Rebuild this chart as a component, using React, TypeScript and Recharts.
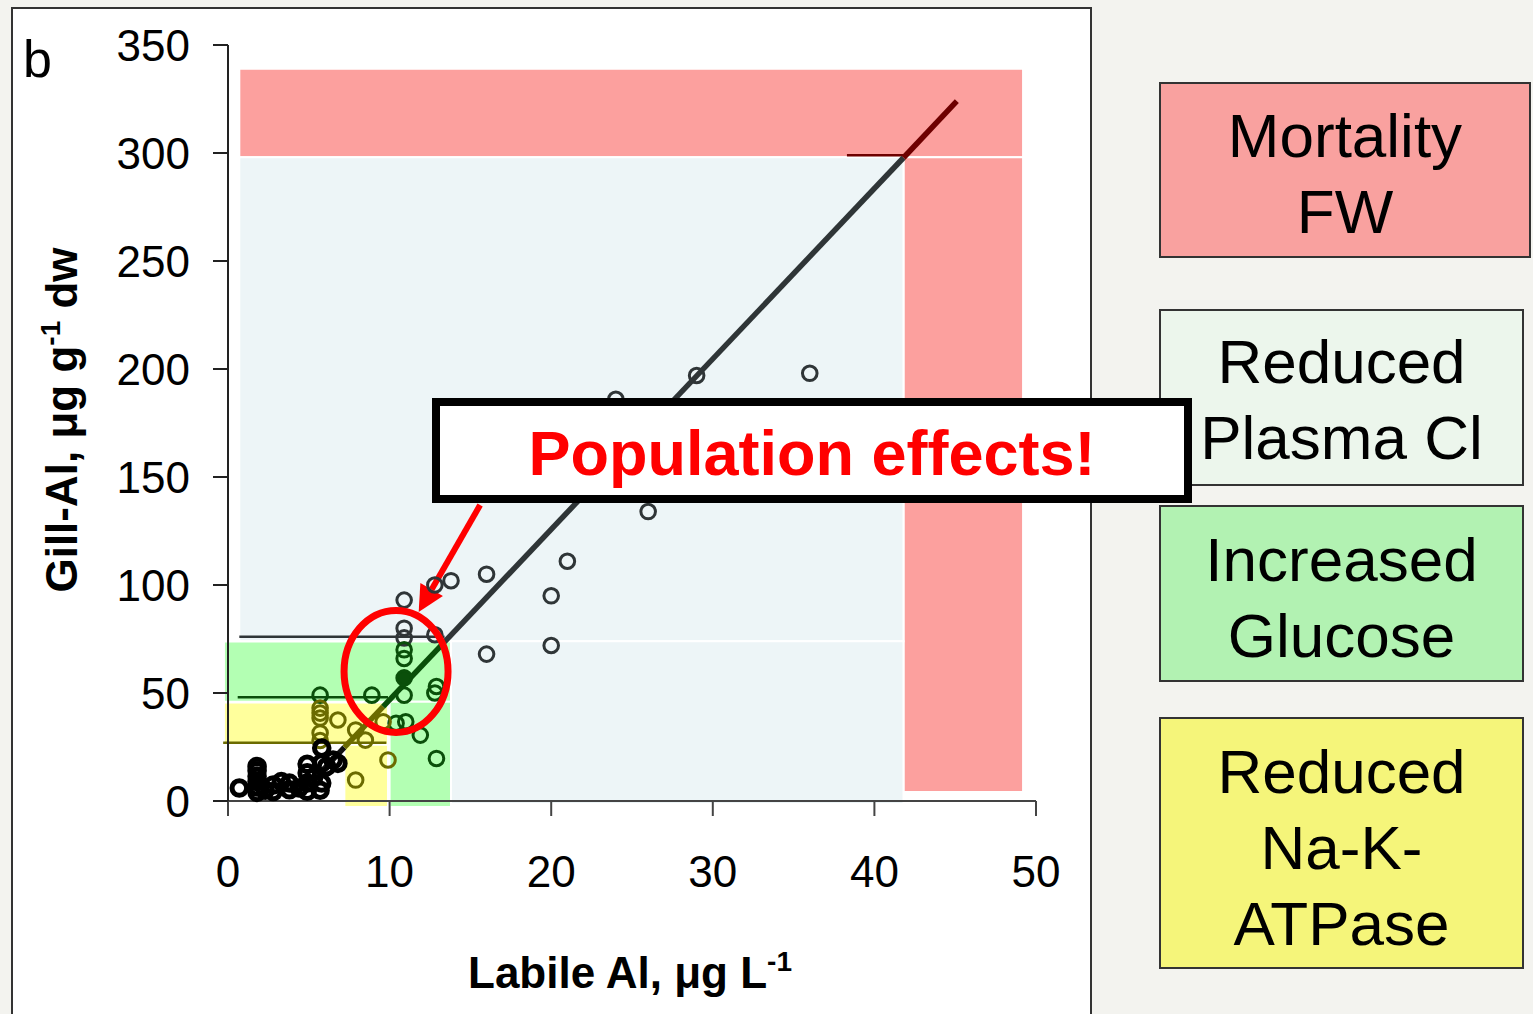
import React from 'react';
import {
  ScatterChart,
  Scatter,
  XAxis,
  YAxis,
  ReferenceArea,
  ReferenceLine,
  ReferenceDot,
} from 'recharts';

type Pt = { x: number; y: number };
type Zone = { x1: number; x2: number; y1: number; y2: number };

const FONT = '"Liberation Sans", Arial, Helvetica, sans-serif';

// axis ticks
const xTicks = [0, 10, 20, 30, 40, 50];
const yTicks = [0, 50, 100, 150, 200, 250, 300, 350];

// observations, grouped by the effect zone they fall in
const greyPoints: Pt[] = [
  { x: 36, y: 198 }, { x: 29, y: 197 }, { x: 24, y: 186 }, { x: 26, y: 134 },
  { x: 21, y: 111 }, { x: 20, y: 95 }, { x: 20, y: 72 }, { x: 16, y: 105 },
  { x: 16, y: 68 }, { x: 13.8, y: 102 }, { x: 12.8, y: 100 }, { x: 10.9, y: 93 },
  { x: 10.9, y: 80 }, { x: 12.8, y: 77 }, { x: 10.9, y: 75.5 },
];
const greenPoints: Pt[] = [
  { x: 10.9, y: 70 }, { x: 10.9, y: 66 }, { x: 12.9, y: 53 }, { x: 5.7, y: 49 },
  { x: 8.9, y: 49 }, { x: 10.9, y: 49 }, { x: 12.8, y: 50 }, { x: 11, y: 36.7 },
  { x: 10.4, y: 36 }, { x: 11.9, y: 30.5 }, { x: 12.9, y: 19.7 },
];
const filledPoints: Pt[] = [{ x: 10.9, y: 57 }];
const olivePoints: Pt[] = [
  { x: 5.7, y: 43 }, { x: 5.7, y: 40.7 }, { x: 5.7, y: 38.4 }, { x: 5.7, y: 31.5 },
  { x: 5.7, y: 28 }, { x: 6.8, y: 37.5 }, { x: 7.9, y: 32.9 }, { x: 9.6, y: 36.7 },
  { x: 8.5, y: 28.2 }, { x: 7.9, y: 9.7 }, { x: 9.9, y: 19 },
];
const blackPoints: Pt[] = [
  { x: 4.9, y: 17 }, { x: 5.8, y: 17.6 }, { x: 6.5, y: 19 }, { x: 6.1, y: 15.9 },
  { x: 4.9, y: 13 }, { x: 5.8, y: 24.5 }, { x: 6.8, y: 17.4 },
  { x: 0.7, y: 6 }, { x: 1.8, y: 4 }, { x: 1.8, y: 6.5 }, { x: 1.8, y: 9 },
  { x: 1.8, y: 11.5 }, { x: 1.8, y: 14 }, { x: 1.8, y: 16 }, { x: 2.3, y: 5 },
  { x: 2.8, y: 4.4 }, { x: 2.8, y: 7.4 }, { x: 3.3, y: 9 }, { x: 3.8, y: 5.2 },
  { x: 3.8, y: 8.3 }, { x: 4.4, y: 6 }, { x: 4.9, y: 4.5 }, { x: 4.9, y: 8.3 },
  { x: 5.7, y: 5 }, { x: 5.8, y: 8.3 }, { x: 5.3, y: 11 },
];

const fitLow: Pt[] = [{ x: 4.8, y: 5.9 }, { x: 7.2, y: 24.8 }];
const fitYellow: Pt[] = [{ x: 7.2, y: 24.8 }, { x: 9.6, y: 43.7 }];
const fitGreen: Pt[] = [{ x: 9.6, y: 43.7 }, { x: 13.4, y: 73.7 }];
const fitMid: Pt[] = [{ x: 13.4, y: 73.7 }, { x: 41.8, y: 297.8 }];
const fitHigh: Pt[] = [{ x: 41.8, y: 297.8 }, { x: 45.1, y: 324 }];

// effect thresholds: gill-Al level and x span
const mortalityLine = { y: 299, x1: 38.3, x2: 41.8 };
const plasmaLine = { y: 76, x1: 0.7, x2: 13.4 };
const glucoseLine = { y: 48, x1: 0.6, x2: 9.9 };
const atpaseLine = { y: 27, x1: -0.3, x2: 9.8 };

// shaded zones
const redZones: Zone[] = [
  { x1: 0.7, x2: 49.2, y1: 298, y2: 339 },
  { x1: 41.8, x2: 49.2, y1: 4.2, y2: 298 },
];
const blueZones: Zone[] = [
  { x1: 0.7, x2: 41.8, y1: 74, y2: 298 },
  { x1: 13.8, x2: 41.8, y1: -1.4, y2: 74 },
];
const greenZones: Zone[] = [
  { x1: -0.25, x2: 13.8, y1: 46, y2: 73.8 },
  { x1: 10, x2: 13.8, y1: -2.8, y2: 46 },
];
const yellowZones: Zone[] = [
  { x1: -0.25, x2: 9.9, y1: 26, y2: 45.6 },
  { x1: 7.2, x2: 9.9, y1: -2.8, y2: 26 },
];

// annotation anchors
const hotspot = { x: 10.4, y: 60 };
const arrowFrom = { x: 15.6, y: 137 };
const arrowTo = { x: 11.8, y: 87.5 };

const legendLabels: string[][] = [
  ['Mortality', 'FW'],
  ['Reduced', 'Plasma Cl'],
  ['Increased', 'Glucose'],
  ['Reduced', 'Na-K-', 'ATPase'],
];
const legendBoxes = [
  { x: 1160, y: 83, w: 370, h: 174, fill: '#f9a19f', base: 157 },
  { x: 1160, y: 310, w: 363, h: 175, fill: '#ecf6ec', base: 383 },
  { x: 1160, y: 506, w: 363, h: 175, fill: '#b2f2b2', base: 581 },
  { x: 1160, y: 718, w: 363, h: 250, fill: '#f5f57a', base: 793 },
];

const ring = (color: string, sw: number, filled = false) => (p: any) => (
  <circle cx={p.cx} cy={p.cy} r={7.3} fill={filled ? color : 'none'} stroke={color} strokeWidth={sw} />
);

const noDot = () => <g />;

const Arrow = (p: any) => {
  const { x1, y1, x2, y2 } = p;
  const a = Math.atan2(y2 - y1, x2 - x1);
  const len = 26;
  const hw = 13;
  const bx = x2 - len * Math.cos(a);
  const by = y2 - len * Math.sin(a);
  const nx = -Math.sin(a);
  const ny = Math.cos(a);
  return (
    <g>
      <line x1={x1} y1={y1} x2={bx} y2={by} stroke="#ff0000" strokeWidth={6} />
      <polygon
        points={`${x2},${y2} ${bx + nx * hw},${by + ny * hw} ${bx - nx * hw},${by - ny * hw}`}
        fill="#ff0000"
      />
    </g>
  );
};

const Hotspot = (p: any) => (
  <ellipse cx={p.cx} cy={p.cy} rx={52} ry={61} fill="none" stroke="#ff0000" strokeWidth={7} />
);

export default function App() {
  const zone = (z: Zone, fill: string, k: string) => (
    <ReferenceArea
      key={k}
      x1={z.x1}
      x2={z.x2}
      y1={z.y1}
      y2={z.y2}
      fill={fill}
      fillOpacity={1}
      stroke="#ffffff"
      strokeWidth={2}
      ifOverflow="visible"
    />
  );
  const thr = (t: { y: number; x1: number; x2: number }, color: string) => (
    <ReferenceLine
      segment={[{ x: t.x1, y: t.y }, { x: t.x2, y: t.y }]}
      stroke={color}
      strokeWidth={2.5}
      ifOverflow="visible"
    />
  );
  const fit = (d: Pt[], color: string) => (
    <Scatter
      data={d}
      line={{ stroke: color, strokeWidth: 5.5 }}
      shape={noDot}
      isAnimationActive={false}
    />
  );

  return (
    <div style={{ position: 'absolute', left: 0, top: 0, width: 1533, height: 1014, background: '#f3f3ef', overflow: 'hidden' }}>
      <div
        style={{
          position: 'absolute',
          left: 11,
          top: 7,
          width: 1081,
          height: 1020,
          background: '#ffffff',
          borderTop: '2px solid #333',
          borderLeft: '2px solid #333',
          borderRight: '2px solid #333',
          boxSizing: 'border-box',
        }}
      />
      <div style={{ position: 'absolute', left: 0, top: 0 }}>
        <ScatterChart width={1533} height={1014} margin={{ top: 45, right: 497, bottom: 153, left: 128 }}>
          <XAxis
            type="number"
            dataKey="x"
            domain={[0, 50]}
            ticks={xTicks}
            interval={0}
            height={60}
            tickSize={15}
            tickMargin={40}
            axisLine={{ stroke: '#444', strokeWidth: 2 }}
            tickLine={{ stroke: '#444', strokeWidth: 2 }}
            tick={{ fill: '#000', fontSize: 44, fontFamily: FONT }}
          />
          <YAxis
            type="number"
            dataKey="y"
            domain={[0, 350]}
            ticks={yTicks}
            interval={0}
            width={100}
            tickSize={15}
            tickMargin={23}
            axisLine={{ stroke: '#222', strokeWidth: 2 }}
            tickLine={{ stroke: '#222', strokeWidth: 2 }}
            tick={{ fill: '#000', fontSize: 44, fontFamily: FONT }}
          />
          {redZones.map((z, i) => zone(z, '#fca09e', 'r' + i))}
          {blueZones.map((z, i) => zone(z, '#edf5f7', 'b' + i))}
          {greenZones.map((z, i) => zone(z, '#b3ffb3', 'g' + i))}
          {yellowZones.map((z, i) => zone(z, '#ffff9c', 'y' + i))}
          {thr(mortalityLine, '#6e0000')}
          {thr(plasmaLine, '#2f3537')}
          {thr(glucoseLine, '#0a4f0a')}
          {thr(atpaseLine, '#6b6b00')}
          {fit(fitLow, '#111111')}
          {fit(fitYellow, '#6b6b00')}
          {fit(fitGreen, '#0a4f0a')}
          {fit(fitMid, '#2f3537')}
          {fit(fitHigh, '#6e0000')}
          <Scatter data={greyPoints} shape={ring('#2f3537', 3)} isAnimationActive={false} />
          <Scatter data={greenPoints} shape={ring('#0a4f0a', 3)} isAnimationActive={false} />
          <Scatter data={filledPoints} shape={ring('#0a4f0a', 3, true)} isAnimationActive={false} />
          <Scatter data={olivePoints} shape={ring('#6b6b00', 3)} isAnimationActive={false} />
          <Scatter data={blackPoints} shape={ring('#000000', 5)} isAnimationActive={false} />
          <ReferenceDot x={hotspot.x} y={hotspot.y} shape={Hotspot} />
          <ReferenceLine segment={[arrowFrom, arrowTo]} shape={Arrow} ifOverflow="visible" />
        </ScatterChart>
      </div>
      <svg width={1533} height={1014} style={{ position: 'absolute', left: 0, top: 0, pointerEvents: 'none' }}>
        <text x={23} y={77} fontSize={52} fontFamily={FONT} fill="#000">b</text>
        <g transform="translate(77,420) rotate(-90)">
          <text textAnchor="middle" fontSize={44} fontWeight="bold" fontFamily={FONT} fill="#000">
            Gill-Al, μg g
            <tspan dy={-17} fontSize={28}>-1</tspan>
            <tspan dy={17}> dw</tspan>
          </text>
        </g>
        <text x={630} y={988} textAnchor="middle" fontSize={44} fontWeight="bold" fontFamily={FONT} fill="#000">
          Labile Al, μg L
          <tspan dy={-17} fontSize={28}>-1</tspan>
        </text>
        {legendBoxes.map((b, i) => (
          <g key={i}>
            <rect x={b.x} y={b.y} width={b.w} height={b.h} fill={b.fill} stroke="#333" strokeWidth={2} />
            {legendLabels[i].map((t, j) => (
              <text
                key={j}
                x={b.x + b.w / 2}
                y={b.base + j * 76}
                textAnchor="middle"
                fontSize={62}
                fontFamily={FONT}
                fill="#000"
              >
                {t}
              </text>
            ))}
          </g>
        ))}
        <rect x={436} y={402} width={752} height={97} fill="#fff" stroke="#000" strokeWidth={8} />
        <text x={812} y={475} textAnchor="middle" fontSize={63} fontWeight="bold" fontFamily={FONT} fill="#ff0000">
          Population effects!
        </text>
      </svg>
    </div>
  );
}
